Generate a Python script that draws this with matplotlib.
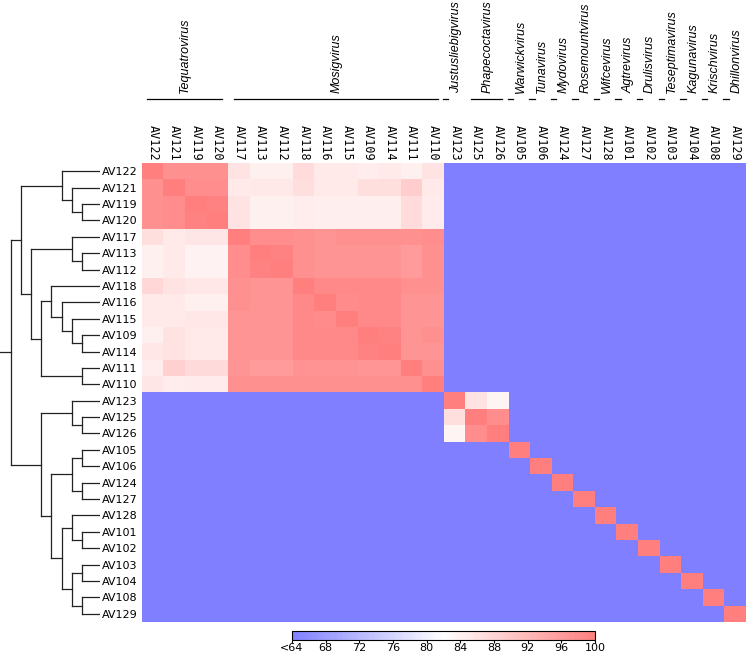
import numpy as np
import matplotlib
matplotlib.use("Agg")
import matplotlib.pyplot as plt
from matplotlib.colors import LinearSegmentedColormap
from matplotlib.transforms import blended_transform_factory

# leaf order (rows and columns)
names = ["AV122", "AV121", "AV119", "AV120", "AV117", "AV113", "AV112",
         "AV118", "AV116", "AV115", "AV109", "AV114", "AV111", "AV110",
         "AV123", "AV125", "AV126", "AV105", "AV106", "AV124", "AV127",
         "AV128", "AV101", "AV102", "AV103", "AV104", "AV108", "AV129"]

# genus labels over the columns, with the number of columns each covers
genera = ["Tequatrovirus", "Mosigvirus", "Justusliebigvirus", "Phapecoctavirus",
          "Warwickvirus", "Tunavirus", "Mydovirus", "Rosemountvirus", "Wifcevirus",
          "Agtrevirus", "Drulisvirus", "Teseptimavirus", "Kagunavirus",
          "Krischvirus", "Dhillonvirus"]
genus_sizes = [4, 10, 1, 2, 1, 1, 1, 1, 1, 1, 1, 1, 1, 1, 1]

# identity (%) within the Tequatrovirus + Mosigvirus block
block_tm = [
    [100, 97.5, 97.5, 97.5, 86, 84, 84, 87, 85, 85, 84.5, 85, 84, 86],
    [97.5, 100, 98, 98, 85, 85.2, 85.2, 86.5, 85, 85, 86.5, 86.5, 89, 85],
    [97.5, 98, 100, 99.5, 86, 84, 84, 84.5, 84.3, 84.3, 84.3, 84.3, 87, 84.8],
    [97.5, 98, 99.5, 100, 86, 84, 84, 84.5, 84.3, 84.3, 84.3, 84.3, 87, 84.8],
    [86.5, 85, 85.5, 85.5, 100, 98, 98, 97.5, 97, 97.5, 97.5, 97.5, 97.5, 98],
    [84, 85, 83.8, 83.8, 98, 100, 99.5, 97.5, 97, 97, 97, 97, 96, 97.5],
    [84, 85, 83.8, 83.8, 98, 99.5, 100, 97.5, 97, 97, 97, 97, 96, 97.5],
    [87.5, 86, 85.3, 85.3, 97.5, 97, 97, 100, 98.6, 98.6, 98.6, 98.6, 97.5, 97.5],
    [85, 85, 84, 84, 97.5, 97, 97, 98.6, 100, 98.3, 98.6, 98.6, 97, 97],
    [85, 85, 85.3, 85.3, 97, 97, 97, 98.6, 98.3, 100, 98.6, 98.6, 97, 97],
    [84, 85.8, 85, 85, 97, 97, 97, 98.6, 98.6, 98.6, 100, 99.5, 97, 97.5],
    [85.3, 85.8, 85, 85, 97, 97, 97, 98.6, 98.6, 98.6, 99.5, 100, 97, 97],
    [84.5, 88.5, 87.2, 87.2, 97, 96, 96, 97.2, 97.2, 97.2, 96.8, 96.8, 100, 97.5],
    [85.5, 84.5, 84.8, 84.8, 97.5, 97.5, 97.5, 97.5, 97.5, 97.5, 97.5, 97.5, 97.5, 100],
]
# Justusliebigvirus + Phapecoctavirus block
block_jp = [
    [100, 86, 83.5],
    [86.5, 100, 98],
    [83.5, 98, 100],
]
below_scale = 50.0  # everything else is under 64 %

# dendrogram: (left, right, height)
teq = ("AV122", ("AV121", ("AV119", "AV120", 18), 28), 38)
mos = (("AV117", ("AV113", "AV112", 18), 28),
       (("AV118", ("AV116", ("AV115", ("AV109", "AV114", 18), 28), 38), 49),
        ("AV111", "AV110", 18), 59), 69)
jp = ("AV123", ("AV125", "AV126", 18), 28)
g1 = (("AV105", "AV106", 18), ("AV124", "AV127", 18), 28)
g2 = (("AV128", ("AV101", "AV102", 18), 28),
      (("AV103", "AV104", 18), ("AV108", "AV129", 18), 28), 38)
tree = ((teq, mos, 79), (jp, (g1, g2, 49), 59), 89)

# build matrix
n = len(names)
mat = np.full((n, n), below_scale)
np.fill_diagonal(mat, 100)
mat[:14, :14] = block_tm
mat[14:17, 14:17] = block_jp

W, H = 747, 657
fig = plt.figure(figsize=(W / 100, H / 100), dpi=100)

cmap = LinearSegmentedColormap.from_list(
    "bwr_soft", [(0.5, 0.5, 1.0), (1.0, 1.0, 1.0), (1.0, 0.5, 0.5)])

hm_left, hm_right, hm_top, hm_bot = 142, 746, 163, 622
ax = fig.add_axes([hm_left / W, 1 - hm_bot / H,
                   (hm_right - hm_left) / W, (hm_bot - hm_top) / H])
im = ax.imshow(mat, cmap=cmap, vmin=64, vmax=100, aspect="auto",
               interpolation="nearest")
ax.set_xlim(-0.5, n - 0.5)
ax.set_ylim(n - 0.5, -0.5)
ax.set_yticks(range(n))
ax.set_yticklabels(names, fontsize=8)
ax.set_xticks([])
ax.tick_params(axis="y", length=0, pad=3)
for s in ax.spines.values():
    s.set_visible(False)

# column labels
tr = blended_transform_factory(ax.transData, fig.transFigure)
for i, nm in enumerate(names):
    ax.text(i, 1 - 125 / H, nm, transform=tr, rotation=270, ha="center",
            va="top", fontsize=8.5, family="DejaVu Sans Mono")

# genus labels with brackets
start = 0
for g, k in zip(genera, genus_sizes):
    end = start + k - 1
    mid = (start + end) / 2
    if k > 1:
        x0, x1, xt = start - 0.25, end + 0.2, mid
    else:
        x0, x1, xt = mid - 0.55, mid - 0.3, mid + 0.05
    ax.plot([x0, x1], [1 - 99 / H] * 2, color="black",
            lw=0.9, transform=tr, clip_on=False)
    ax.text(xt, 1 - 93 / H, g, transform=tr, rotation=90,
            ha="center", va="bottom", fontsize=9, style="italic",
            family="Liberation Sans")
    start = end + 1

# dendrogram
axd = fig.add_axes([0, 1 - hm_bot / H, 100 / W, (hm_bot - hm_top) / H])
axd.set_xlim(100, 0)
axd.set_ylim(n - 0.5, -0.5)
axd.axis("off")
pos = {nm: i for i, nm in enumerate(names)}


def draw(node):
    if isinstance(node, str):
        return pos[node], 0
    left, right, h = node
    yl, hl = draw(left)
    yr, hr = draw(right)
    axd.plot([hl, h], [yl, yl], color="#222222", lw=0.9)
    axd.plot([hr, h], [yr, yr], color="#222222", lw=0.9)
    axd.plot([h, h], [yl, yr], color="#222222", lw=0.9)
    return (yl + yr) / 2, h


ry, rh = draw(tree)
axd.plot([rh, 100], [ry, ry], color="#222222", lw=0.9)

# colorbar
cax = fig.add_axes([292 / W, 1 - 640 / H, 303 / W, 9 / H])
ticks = [64, 68, 72, 76, 80, 84, 88, 92, 96, 100]
cb = fig.colorbar(im, cax=cax, orientation="horizontal", ticks=ticks)
cb.set_ticklabels(["<64"] + [str(t) for t in ticks[1:]])
cb.ax.tick_params(labelsize=8, length=2.5, pad=0)
cb.outline.set_linewidth(0.8)

fig.savefig("out.png", dpi=100)
